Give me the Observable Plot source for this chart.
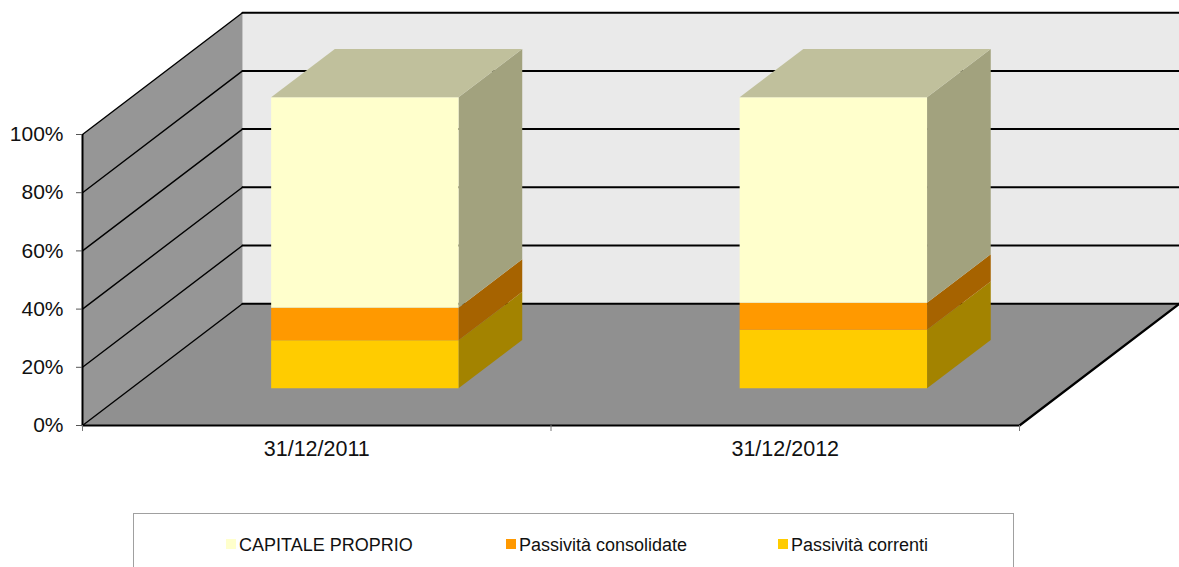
<!DOCTYPE html>
<html>
<head>
<meta charset="utf-8">
<script src="https://cdn.jsdelivr.net/npm/d3@7"></script>
<script src="https://cdn.jsdelivr.net/npm/@observablehq/plot@0.6"></script>
<style>
html,body{margin:0;padding:0;background:#fff;width:1179px;height:567px;overflow:hidden;font-family:"Liberation Sans",Arial,sans-serif;}
svg{display:block;}
#legend{position:absolute;left:133px;top:513px;width:879px;height:70px;border:1.5px solid #a0a0a0;box-sizing:content-box;color:#111;font-size:18px;}
#legend span{position:absolute;white-space:nowrap;}
#legend .sw{width:10px;height:10px;top:25px;}
#legend .lb{top:20px;line-height:22px;}
</style>
</head>
<body>
<div id="chart"></div>
<div id="legend"></div>
<script>
const categories = ["31/12/2011", "31/12/2012"];
const seriesNames = ["Passività correnti", "Passività consolidate", "CAPITALE PROPRIO"];
const passivitaCorrenti = [16.5, 20.1];
const passivitaConsolidate = [11.2, 9.3];
const capitaleProprio = [72.3, 70.6];
const yTicks = [0, 20, 40, 60, 80, 100];

const frontColors = {"Passività correnti":"#FFCC00","Passività consolidate":"#FF9900","CAPITALE PROPRIO":"#FFFFCC"};
const sideColors  = {"Passività correnti":"#A38300","Passività consolidate":"#A66300","CAPITALE PROPRIO":"#A2A27E"};
const topColor = "#C0C09C";

// Oblique projection: depth 0 (front) to 1 (back) shifts a point right and up, in data units.
const depthX = 160 / 468.5, depthY = 121.8 / 2.91;
const px = (c, d) => c + d * depthX;
const py = (v, d) => v + d * depthY;
const pt = (id, color, c, v, d) => ({id, color, x: px(c, d), y: py(v, d)});
const poly = (id, color, corners) => corners.map(([c, v, d]) => pt(id, color, c, v, d));

const nCat = categories.length, yMax = yTicks[yTicks.length - 1];
let faces = [];
faces = faces.concat(poly("wall", "#EAEAEA", [[0,0,1],[nCat,0,1],[nCat,yMax,1],[0,yMax,1]]));
faces = faces.concat(poly("side", "#969696", [[0,0,0],[0,0,1],[0,yMax,1],[0,yMax,0]]));
faces = faces.concat(poly("floor", "#909090", [[0,0,0],[nCat,0,0],[nCat,0,1],[0,0,1]]));

const barGap = 0.2985, barWidth = 0.4, d0 = 0.305, d1 = 0.703;
let barFaces = [];
categories.forEach((cat, i) => {
  const x0 = i + barGap, x1 = x0 + barWidth;
  let base = 0;
  [passivitaCorrenti, passivitaConsolidate, capitaleProprio].forEach((vals, s) => {
    const name = seriesNames[s], top = base + vals[i];
    barFaces = barFaces.concat(poly(`s${i}${s}`, sideColors[name], [[x1,base,d0],[x1,base,d1],[x1,top,d1],[x1,top,d0]]));
    barFaces = barFaces.concat(poly(`f${i}${s}`, frontColors[name], [[x0,base,d0],[x1,base,d0],[x1,top,d0],[x0,top,d0]]));
    if (s === 2) barFaces = barFaces.concat(poly(`t${i}`, topColor, [[x0,top,d0],[x1,top,d0],[x1,top,d1],[x0,top,d1]]));
    base = top;
  });
});

const gridBack = yTicks.map(v => [{k:v, x:px(0,1), y:py(v,1)},{k:v, x:px(nCat,1), y:py(v,1)}]).flat();
const gridSide = yTicks.map(v => [{k:v, x:px(0,0), y:py(v,0)},{k:v, x:px(0,1), y:py(v,1)}]).flat();

const chart = Plot.plot({
  width: 1179,
  height: 513,
  marginLeft: 82, marginRight: 160, marginTop: 134, marginBottom: 88,
  x: {domain: [0, nCat], range: [82, 1019]},
  y: {domain: [0, yMax], range: [425, 134]},
  style: {background: "transparent", fontFamily: "'Liberation Sans', Arial, sans-serif"},
  marks: [
    Plot.line(faces, {x:"x", y:"y", z:"id", fill:"color", stroke:"none"}),
    Plot.line(gridBack, {x:"x", y:"y", z:"k", stroke:"#000", strokeWidth:2}),
    Plot.line(gridSide, {x:"x", y:"y", z:"k", stroke:"#000", strokeWidth:1.4}),
    Plot.line(barFaces, {x:"x", y:"y", z:"id", fill:"color", stroke:"none"}),
    // frame: front floor edge, right floor edge, vertical axis
    Plot.line([{x:0,y:0},{x:nCat,y:0},{x:px(nCat,1),y:py(0,1)}], {x:"x", y:"y", stroke:"#000", strokeWidth:2.2}),
    Plot.ruleX([0], {y1:0, y2:yMax, stroke:"#000", strokeWidth:2}),
    Plot.axisY({ticks: yTicks, tickFormat: d => d + "%", tickSize: 6, tickPadding: 13, fontSize: 21, stroke:"#555", color:"#111", label:null}),
    Plot.axisX({ticks: [0, 1, 2], tickSize: 6, tickFormat: () => "", stroke:"#777", label:null}),
    Plot.axisX({ticks: categories.map((c,i)=>i+0.5), tickSize: 0, tickPadding: 15, fontSize: 21.5, tickFormat: d => categories[d-0.5], color:"#111", label:null})
  ]
});
document.getElementById("chart").appendChild(chart);

const legendOrder = [
  {name:"CAPITALE PROPRIO", sw:92, lb:105},
  {name:"Passività consolidate", sw:372, lb:385},
  {name:"Passività correnti", sw:644, lb:657}
];
const lg = document.getElementById("legend");
legendOrder.forEach(o => {
  const s = document.createElement("span"); s.className="sw"; s.style.left=o.sw+"px"; s.style.background=frontColors[o.name]; lg.appendChild(s);
  const t = document.createElement("span"); t.className="lb"; t.style.left=o.lb+"px"; t.textContent=o.name; lg.appendChild(t);
});
</script>
</body>
</html>
